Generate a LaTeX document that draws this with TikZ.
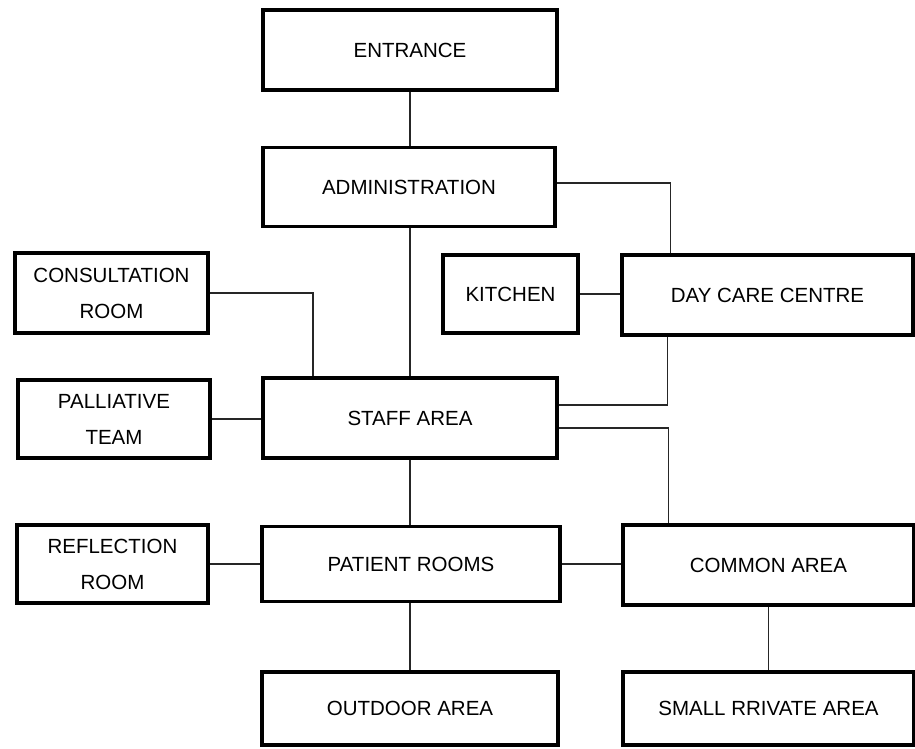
\documentclass[tikz,border=0pt]{standalone}
\usepackage{fontspec}
\setmainfont{Liberation Sans}
\begin{document}
\begin{tikzpicture}[x=1pt,y=-1pt,
  box/.style={draw=black, line width=3.4pt, fill=white, inner sep=0pt, align=center,
    font=\fontsize{20.5}{36}\selectfont, text=black},
  link/.style={draw=black!85, line width=1.3pt}]
\useasboundingbox (0,0) rectangle (915,749);
% nodes
\node[box, minimum width=294pt, minimum height=80pt] (ent) at (410,50) {ENTRANCE};
\node[box, minimum width=292pt, minimum height=79pt] (adm) at (409,187) {ADMINISTRATION};
\node[box, minimum width=193pt, minimum height=80pt] (con) at (111.5,293) {CONSULTATION\\ROOM};
\node[box, minimum width=135pt, minimum height=78pt] (kit) at (510.5,294) {KITCHEN};
\node[box, minimum width=291pt, minimum height=80pt] (dcc) at (767.5,295) {DAY CARE CENTRE};
\node[box, minimum width=192pt, minimum height=78pt] (pal) at (114,419) {PALLIATIVE\\TEAM};
\node[box, minimum width=294pt, minimum height=80pt] (sta) at (410,418) {STAFF AREA};
\node[box, minimum width=191pt, minimum height=78pt] (ref) at (112.5,564) {REFLECTION\\ROOM};
\node[box, minimum width=298pt, minimum height=75pt] (pat) at (411,564) {PATIENT ROOMS};
\node[box, minimum width=291pt, minimum height=80pt] (com) at (768.5,565) {COMMON AREA};
\node[box, minimum width=296pt, minimum height=73pt] (out) at (410,708.5) {OUTDOOR AREA};
\node[box, minimum width=291pt, minimum height=73pt] (spa) at (768.5,708.5) {SMALL RRIVATE AREA};
% connectors
\draw[link] (ent.south) -- (adm.north -| ent.south);
\draw[link] (adm.south -| sta.north) -- (sta.north);
\draw[link] ([yshift=4pt]adm.east) -| ([xshift=-97pt]dcc.north);
\draw[link] (con.east) -| ([xshift=-97pt]sta.north);
\draw[link] (kit.east) -- (kit.east -| dcc.west);
\draw[link] ([xshift=-100pt]dcc.south) |- ([yshift=13pt]sta.east);
\draw[link] ([yshift=-10pt]sta.east) -| ([xshift=-100pt]com.north);
\draw[link] (pal.east) -- (pal.east -| sta.west);
\draw[link] (sta.south) -- (pat.north -| sta.south);
\draw[link] (ref.east) -- (ref.east -| pat.west);
\draw[link] (pat.east) -- (pat.east -| com.west);
\draw[link] (pat.south -| out.north) -- (out.north);
\draw[link] (com.south) -- (spa.north);
\end{tikzpicture}
\end{document}
